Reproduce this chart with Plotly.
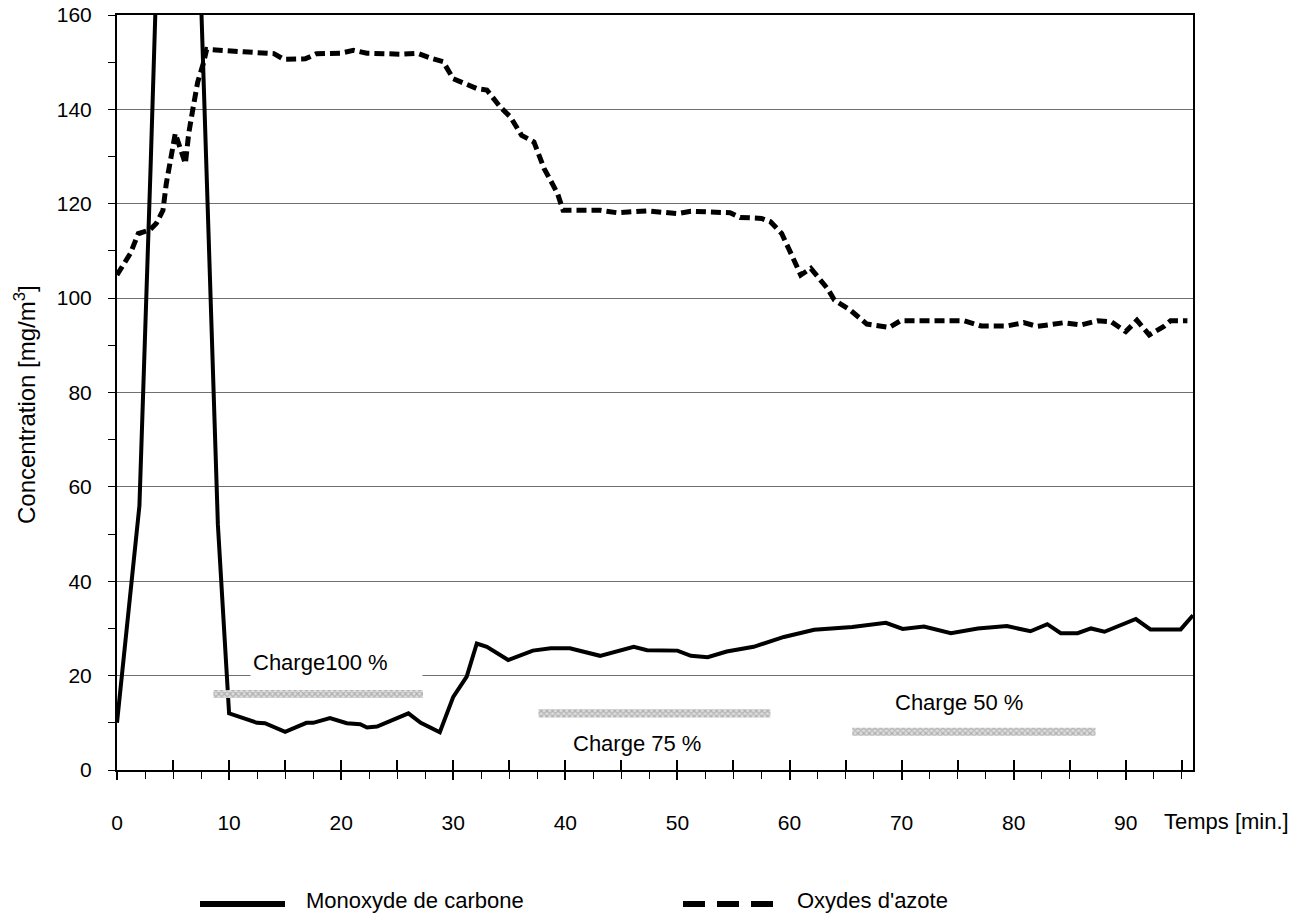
import plotly.graph_objects as go

# ---------------- data ----------------
t_co = [0, 2, 3, 4, 5, 6, 7, 9, 10, 12.5, 13.2, 15, 16.9, 17.5, 19, 20.5, 21.7, 22.3, 23.2, 26,
        27.1, 28.8, 30, 31.2, 32.1, 33, 34.9, 37.1, 38.7, 40.4, 43.1, 46.1, 47.3, 50, 51.2, 52.7,
        54.4, 56.8, 59.5, 62.2, 65.6, 66.9, 68.6, 70.1, 72, 74.4, 76.8, 79.4, 81.5, 83, 84.2,
        85.7, 86.9, 88.1, 90.9, 92.2, 94.9, 96]
co = [10, 56, 128, 205, 215, 212, 200, 52, 12, 10, 9.9, 8.1, 10, 10, 11, 9.9, 9.7, 9, 9.2, 12,
      10, 8, 15.5, 19.8, 26.8, 26.1, 23.3, 25.3, 25.8, 25.8, 24.2, 26.1, 25.4, 25.3, 24.2, 23.9,
      25.1, 26.1, 28.2, 29.7, 30.3, 30.7, 31.2, 29.9, 30.4, 29, 30, 30.5, 29.4, 30.9, 29,
      29, 30, 29.3, 32, 29.8, 29.8, 32.8]

t_nox = [0, 1.2, 1.9, 2.9, 3.5, 4.1, 4.4, 4.9, 5.2, 6.1, 6.4, 6.8, 7.2, 7.7, 8.0, 11.3, 14.0,
         14.9, 16.8, 17.8, 19.9, 21.1, 22.3, 25.3, 26.8, 28.2, 29.1, 30.0, 32.1, 33.0, 34.2,
         35.1, 36.1, 37.2, 38.1, 39.3, 39.8, 43.1, 44.6, 47.3, 50.0, 51.2, 54.7, 55.6, 57.5,
         58.3, 59.3, 60.2, 61.0, 61.9, 63.4, 64.0, 65.4, 66.9, 68.9, 69.9, 72.0, 75.6, 77.1,
         79.4, 80.9, 82.1, 84.5, 86.0, 87.5, 88.7, 90.0, 91.0, 92.1, 93.4, 94.0, 95.5]
nox = [104.9, 109.5, 113.7, 114.4, 115.8, 118.6, 124.3, 131.4, 134.9, 128.5, 134.9, 140.5,
       145.8, 149.7, 152.7, 152.2, 151.8, 150.6, 150.7, 151.8, 151.9, 152.5, 151.9, 151.7,
       151.9, 150.7, 150.1, 146.5, 144.4, 144.1, 140.5, 138.4, 134.5, 133.1, 127.5, 122.2,
       118.6, 118.6, 118.1, 118.5, 117.9, 118.4, 118.1, 117.1, 116.9, 116.2, 113.7, 109.1,
       104.9, 106.3, 102.0, 99.6, 97.5, 94.5, 93.8, 95.2, 95.2, 95.2, 94.1, 94.1, 94.8, 94.0,
       94.8, 94.3, 95.2, 95.0, 92.9, 95.3, 92.2, 94.0, 95.2, 95.2]

load_labels = ["Charge100 %", "Charge 75 %", "Charge 50 %"]
load_level = [16.1, 12.0, 8.1]
load_start = [8.6, 37.6, 65.6]
load_end = [27.3, 58.3, 87.3]

series_names = ["Monoxyde de carbone", "Oxydes d'azote"]

x_ticks = list(range(0, 100, 10))
x_ticktext = [str(v) for v in x_ticks]
y_ticks = list(range(0, 180, 20))
y_ticktext = [str(v) for v in y_ticks]

# ---------------- layout helpers ----------------
FONT = "Liberation Sans, Arial, sans-serif"
X_RANGE = [0, 96]
Y_RANGE = [0, 160]
label_pos = [(19.6, 22.7), (46.4, 5.7), (75.1, 14.2)]
x_five = [v * 5 for v in range(20)]
x_minor = [v * 2.5 for v in range(39) if (v * 2.5) % 10 != 0]
y_minor = [v + 10 for v in y_ticks[:-1]]

fig = go.Figure()

# load bars (hatched)
fig.add_trace(go.Bar(
    orientation="h",
    y=load_level,
    x=[e - s for s, e in zip(load_start, load_end)],
    base=load_start,
    width=1.7,
    xaxis="x2", yaxis="y",
    marker=dict(color="#dedede", line=dict(width=0),
                pattern=dict(shape="x", fgcolor="#808080", size=4, solidity=0.5)),
    showlegend=False, hoverinfo="skip",
))

fig.add_trace(go.Scatter(
    x=t_co, y=co, mode="lines", name=series_names[0],
    line=dict(color="black", width=4),
))
fig.add_trace(go.Scatter(
    x=t_nox, y=nox, mode="lines", name=series_names[1],
    line=dict(color="black", width=5, dash="10px,5px"),
))

annotations = []
for i, (txt, (lx, ly)) in enumerate(zip(load_labels, label_pos)):
    a = dict(x=lx, y=ly, xref="x", yref="y", text=txt, showarrow=False,
             font=dict(family=FONT, size=22, color="black"),
             xanchor="center", yanchor="middle")
    if i == 0:
        a.update(bgcolor="white", width=167, align="left", borderpad=2)
    annotations.append(a)

# y-axis title
annotations.append(dict(x=(25 - 117) / 1076, y=(770 - 405) / 755, xref="paper", yref="paper",
                        text="Concentration [mg/m<sup>3</sup>]", showarrow=False, textangle=-90,
                        xanchor="center", yanchor="middle",
                        font=dict(family=FONT, size=24, color="black")))
annotations.append(dict(x=(1162 - 117) / 1076, y=-0.068, xref="paper", yref="paper",
                        text="Temps [min.]", showarrow=False, xanchor="left", yanchor="middle",
                        font=dict(family=FONT, size=22, color="black")))
# legend texts
LEG_TEXT_Y = (770 - 900) / 755
LEG_LINE_Y = (770 - 904) / 755
annotations.append(dict(x=(304 - 117) / 1076, y=LEG_TEXT_Y, xref="paper", yref="paper",
                        text=series_names[0], showarrow=False, xanchor="left", yanchor="middle",
                        font=dict(family=FONT, size=22, color="black")))
annotations.append(dict(x=(795 - 117) / 1076, y=LEG_TEXT_Y, xref="paper", yref="paper",
                        text=series_names[1], showarrow=False, xanchor="left", yanchor="middle",
                        font=dict(family=FONT, size=22, color="black")))

shapes = [
    dict(type="line", xref="paper", yref="paper", x0=(200 - 117) / 1076, x1=(285 - 117) / 1076,
         y0=LEG_LINE_Y, y1=LEG_LINE_Y, line=dict(color="black", width=6)),
    dict(type="line", xref="paper", yref="paper", x0=(683 - 117) / 1076, x1=(775 - 117) / 1076,
         y0=LEG_LINE_Y, y1=LEG_LINE_Y, line=dict(color="black", width=6, dash="22px,12px")),
]

# page body has an 8px margin: shift the figure's margins to compensate
OFF = 8
fig.update_layout(
    width=1304, height=913,
    margin=dict(l=117 - OFF, r=1304 - 1193 + OFF, t=15 - OFF, b=913 - 770 + OFF),
    paper_bgcolor="white", plot_bgcolor="white",
    showlegend=False,
    font=dict(family=FONT, size=21, color="black"),
    annotations=annotations,
    shapes=shapes,
    xaxis=dict(
        range=X_RANGE, tickmode="array", tickvals=x_ticks, ticktext=x_ticktext,
        ticks="outside", ticklen=8, tickwidth=1.5, tickcolor="black",
        minor=dict(tickmode="array", tickvals=x_minor, ticks="outside",
                   ticklen=7, tickwidth=1.3, tickcolor="black", showgrid=False),
        showline=True, linewidth=2, linecolor="black", mirror=True,
        showgrid=False, zeroline=False, automargin=False, ticklabeloverflow="allow",
        tickfont=dict(family=FONT, size=21, color="black"),
        ticklabelstandoff=25,
    ),
    xaxis2=dict(
        range=X_RANGE, overlaying="x", anchor="y", side="bottom",
        tickmode="array", tickvals=x_five, ticks="inside", ticklen=10, tickwidth=1.5,
        tickcolor="black", showticklabels=False, showgrid=False, zeroline=False,
        showline=False, automargin=False,
    ),
    yaxis=dict(
        range=Y_RANGE, tickmode="array", tickvals=y_ticks, ticktext=y_ticktext,
        ticks="outside", ticklen=7, tickwidth=1.3, tickcolor="black",
        minor=dict(tickmode="array", tickvals=y_minor, ticks="outside",
                   ticklen=7, tickwidth=1.3, tickcolor="black", showgrid=False),
        showline=True, linewidth=2, linecolor="black", mirror=True,
        showgrid=True, gridcolor="#707070", gridwidth=1.2, zeroline=False, automargin=False,
        ticklabeloverflow="allow",
        tickfont=dict(family=FONT, size=21, color="black"),
        ticklabelstandoff=12,
    ),
)

fig.write_html("out.html")
